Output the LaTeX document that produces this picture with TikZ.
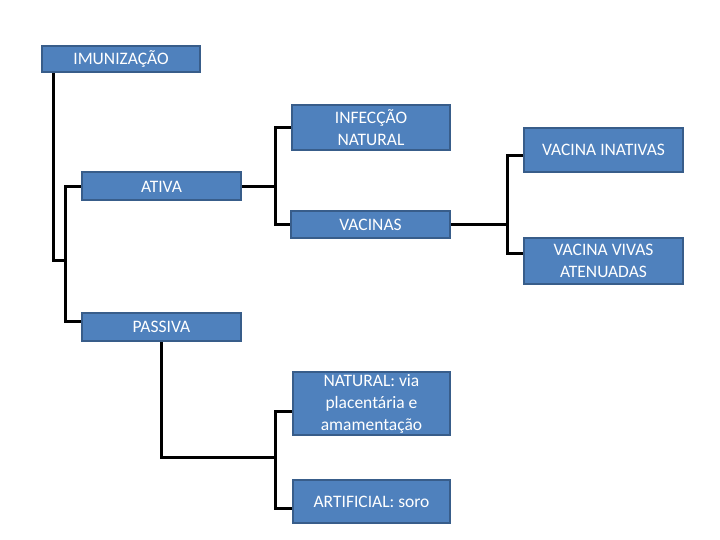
\documentclass[tikz,border=0pt]{standalone}
\usepackage{fontspec}
\setmainfont{Carlito}
\definecolor{boxfill}{HTML}{4F81BD}
\definecolor{boxline}{HTML}{385D8A}
\pgfdeclarelayer{bg}
\pgfsetlayers{bg,main}
\begin{document}
\begin{tikzpicture}[x=1pt,y=-1pt,
  box/.style={rectangle, draw=boxline, fill=boxfill, line width=2pt, text=white,
    inner sep=0pt, align=center, font=\fontsize{17.5}{22}\selectfont},
  conn/.style={line width=3pt, black, line cap=rect}]
\useasboundingbox (0,0) rectangle (720,540);
\node[box, minimum width=158pt, minimum height=26pt] (imun) at (121,59) {IMUNIZAÇÃO};
\node[box, minimum width=159pt, minimum height=28pt] (ativa) at (161.5,186.5) {ATIVA};
\node[box, minimum width=158pt, minimum height=45pt] (infec) at (371,127.5) {INFECÇÃO\\NATURAL};
\node[box, minimum width=159pt, minimum height=27pt] (vacinas) at (370.5,224.5) {VACINAS};
\node[box, minimum width=159pt, minimum height=44pt] (inat) at (603.5,150) {VACINA INATIVAS};
\node[box, minimum width=159pt, minimum height=46pt] (vivas) at (603.5,261) {VACINA VIVAS\\ATENUADAS};
\node[box, minimum width=159pt, minimum height=28pt] (passiva) at (161.5,327) {PASSIVA};
\node[box, minimum width=157pt, minimum height=63pt] (natural) at (371.5,403.5) {NATURAL: via\\placentária e\\amamentação};
\node[box, minimum width=157pt, minimum height=43pt] (artif) at (371.5,501.5) {ARTIFICIAL: soro};
\coordinate (j0) at (53,260);
\coordinate (j1) at (65,260);
\coordinate (k1) at (275,186.5);
\coordinate (k2) at (507,224.5);
\coordinate (k3) at (275,457);
\begin{pgfonlayer}{bg}
\draw[conn] (imun.south -| j0) -- (j0) -- (j1);
\draw[conn] (ativa.west) -| (j1) |- ([yshift=6pt]passiva.west);
\draw[conn] (ativa.east) -- (k1);
\draw[conn] (infec.west) -| (k1) |- (vacinas.west);
\draw[conn] (vacinas.east) -- (k2);
\draw[conn] ([yshift=-6pt]inat.west) -| (k2) |- ([yshift=8pt]vivas.west);
\draw[conn] (passiva.south) |- (k3);
\draw[conn] ([yshift=-7.5pt]natural.west) -| (k3) |- ([yshift=-6.5pt]artif.west);
\end{pgfonlayer}
\end{tikzpicture}
\end{document}
